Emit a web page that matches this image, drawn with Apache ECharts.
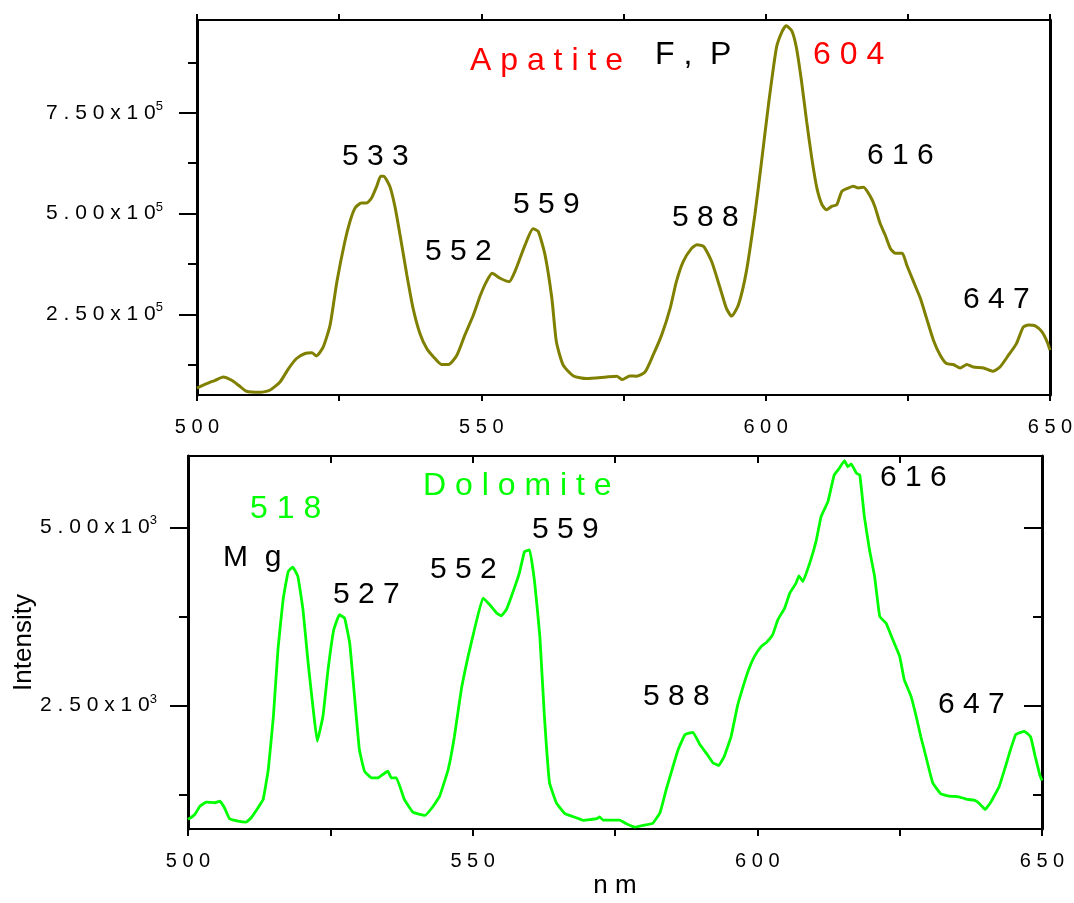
<!DOCTYPE html>
<html>
<head>
<meta charset="utf-8">
<script src="https://cdn.jsdelivr.net/npm/echarts@6/dist/echarts.min.js"></script>
<style>
  html, body { margin: 0; padding: 0; background: #fff; }
  #espectro { width: 1074px; height: 903px; }
</style>
</head>
<body>
<div id="espectro"></div>
<script>
// Apatite spectrum (top panel)
var apatiteNm = [500.0, 501.7, 503.2, 504.6, 506.1, 507.3, 508.7, 511.1, 512.8, 514.6, 516.1, 517.5, 519.0, 520.2, 521.0, 522.2, 523.4, 524.6, 526.0, 526.9,
  527.8, 528.9, 529.8, 530.7, 531.6, 532.3, 532.8, 533.9, 534.8, 535.7, 536.9, 538.0, 539.2, 540.4, 541.6, 543.0, 544.2, 545.7, 547.1, 548.6,
  549.8, 550.9, 551.9, 553.3, 554.9, 555.9, 557.7, 559.1, 560.0, 561.2, 562.4, 563.2, 564.4, 566.2, 568.5, 572.0, 573.8, 574.8, 576.1, 577.3,
  578.8, 580.2, 581.7, 583.2, 584.3, 585.5, 587.0, 587.9, 589.1, 590.5, 592.0, 593.1, 594.0, 595.2, 596.6, 598.1, 599.2, 600.5, 601.9, 602.8,
  603.6, 604.6, 605.4, 606.3, 607.2, 608.1, 609.0, 609.9, 610.7, 611.6, 612.5, 613.4, 614.6, 615.4, 616.3, 617.2, 618.4, 619.2, 620.1, 621.0,
  621.9, 622.8, 624.0, 624.8, 626.0, 627.2, 628.3, 629.5, 630.7, 631.8, 633.0, 634.2, 635.4, 636.5, 638.3, 640.0, 641.2, 642.7, 644.1, 645.3,
  646.2, 647.4, 648.6, 649.5, 650.0];
var apatiteCounts = [67000, 78000, 86500, 94700, 86500, 74100, 59200, 56700, 61700, 82300, 115600, 140500, 153000, 154500, 147000, 169400, 223400, 331100, 430600, 480400,
  513700, 526200, 526200, 538600, 567500, 592400, 592400, 567500, 517700, 447300, 347800, 264900, 202700, 165400, 144500, 125600, 125600, 148700, 198500, 248300,
  296000, 331100, 352000, 339600, 331100, 356000, 422400, 462200, 455500, 397500, 289800, 181800, 123900, 97300, 90800, 94700, 96500, 88300, 97300, 96500,
  107200, 148700, 198500, 264900, 331100, 380900, 414200, 422400, 418200, 380900, 314700, 264900, 245800, 273100, 356000, 497100, 620000, 770800, 911800, 948900,
  965600, 953200, 911800, 828700, 729200, 638100, 563500, 522000, 509500, 517700, 522000, 555100, 563500, 567500, 563500, 565000, 542600, 517700, 476400, 447300,
  414200, 401800, 401800, 372700, 331100, 289800, 240000, 186000, 148700, 128000, 125600, 117100, 125600, 119300, 117100, 108800, 119300, 148700, 177500, 218600,
  223400, 221500, 206400, 181800, 161300];

// Dolomite spectrum (bottom panel)
var dolomiteNm = [500.0, 501.2, 502.1, 503.2, 504.7, 505.6, 506.4, 507.3, 508.8, 510.2, 511.1, 512.3, 513.2, 514.1, 515.0, 515.8, 516.7, 517.6, 518.4, 519.3,
  520.2, 521.1, 522.0, 522.7, 523.7, 524.6, 525.6, 526.6, 527.5, 528.4, 529.3, 530.1, 531.0, 532.2, 533.4, 534.2, 535.1, 535.7, 536.6, 538.0,
  539.5, 541.6, 543.0, 544.2, 545.7, 546.8, 548.0, 549.2, 550.3, 551.8, 553.0, 554.2, 555.0, 555.9, 556.8, 558.2, 559.1, 560.0, 560.9, 561.8,
  562.6, 563.5, 564.7, 566.2, 568.2, 569.4, 571.8, 572.3, 572.9, 575.8, 577.0, 578.5, 579.9, 581.6, 582.9, 584.0, 585.2, 586.1, 587.3, 588.7,
  589.9, 591.0, 592.2, 593.2, 594.2, 595.4, 596.5, 597.7, 598.6, 599.5, 600.7, 601.6, 602.7, 603.6, 604.8, 605.7, 606.8, 607.3, 608.0, 609.2,
  610.3, 611.2, 612.4, 613.5, 614.4, 615.3, 615.9, 616.5, 617.4, 618.0, 618.8, 619.7, 620.6, 621.5, 622.6, 623.8, 625.0, 625.8, 627.0, 627.9,
  628.7, 629.6, 630.8, 632.2, 633.7, 635.4, 636.9, 638.1, 639.0, 640.0, 641.0, 642.5, 643.6, 644.3, 645.4, 646.9, 648.0, 648.8, 649.6, 650.0];
var dolomiteCounts = [904, 974, 1090, 1146, 1138, 1160, 1068, 914, 880, 866, 928, 1068, 1184, 1604, 2350, 3284, 3984, 4380, 4442, 4310,
  3844, 3098, 2444, 2000, 2350, 3004, 3564, 3774, 3728, 3378, 2584, 1884, 1580, 1488, 1488, 1534, 1580, 1488, 1488, 1184,
  1006, 960, 1082, 1230, 1604, 2070, 2724, 3190, 3564, 4008, 3914, 3798, 3760, 3844, 4030, 4358, 4660, 4684, 4218, 3470,
  2350, 1418, 1138, 984, 928, 890, 914, 940, 895, 895, 844, 796, 820, 848, 998, 1324, 1650, 1884, 2094, 2126,
  1954, 1838, 1698, 1660, 1790, 2070, 2490, 2818, 3030, 3190, 3330, 3386, 3494, 3704, 3868, 4078, 4218, 4320, 4240, 4498,
  4800, 5150, 5360, 5734, 5828, 5934, 5850, 5888, 5758, 5734, 5150, 4684, 4310, 3750, 3658, 3424, 3190, 2864, 2630, 2350,
  2070, 1790, 1418, 1264, 1230, 1222, 1184, 1174, 1128, 1044, 1146, 1370, 1650, 1838, 2094, 2140, 2062, 1790, 1534, 1450];

// axis ticks
var nmLabels = [500, 550, 600, 650];
var apatiteMajor = [250000, 500000, 750000];
var apatiteMinor = [125000, 375000, 625000, 875000];
var dolomiteMajor = [2500, 5000];
var dolomiteMinor = [1250, 3750];

gerarEspectros()
function gerarEspectros(){
    var dom = document.getElementById('espectro');
    var myChart = echarts.init(dom, null, { renderer: 'canvas' });
    var fonte = '"Liberation Sans", Arial, sans-serif';

    function espacar(s) { return String(s).split('').join(' '); }
    function pares(xs, ys) { return xs.map(function (x, i) { return [x, ys[i]]; }); }
    function sci(exp) {
      return function (v) {
        return '{m|' + espacar((v / Math.pow(10, exp)).toFixed(2)) + ' x 1 0}{e|' + exp + '}';
      };
    }

    function eixoNm(grid, pos, inside, len, labels, extra) {
      var ax = {
        type: 'value', gridIndex: grid, position: pos, min: 500, max: 650, interval: 25,
        splitLine: { show: false },
        axisLine: { lineStyle: { color: '#000', width: 2 } },
        axisTick: { inside: inside, length: len, lineStyle: { color: '#000', width: 2 } },
        axisLabel: labels ? {
          margin: 22, fontSize: 20, color: '#000', fontFamily: fonte,
          showMinLabel: true, showMaxLabel: true,
          formatter: function (v) { return nmLabels.indexOf(v) >= 0 ? espacar(v) : ''; }
        } : { show: false }
      };
      return Object.assign(ax, extra || {});
    }

    function eixoY(grid, pos, min, max, ticks, len, inside, lineW, label, extra) {
      var ax = {
        type: 'value', gridIndex: grid, position: pos, min: min, max: max,
        splitLine: { show: false },
        axisLine: { show: lineW > 0, lineStyle: { color: '#000', width: lineW } },
        axisTick: { customValues: ticks, inside: inside, length: len, lineStyle: { color: '#000', width: 2 } },
        axisLabel: label ? {
          customValues: ticks, margin: label.margin, formatter: label.fn,
          rich: {
            m: { fontSize: 21, color: '#000', fontFamily: fonte, lineHeight: 26 },
            e: { fontSize: 13, color: '#000', fontFamily: fonte, verticalAlign: 'top', lineHeight: 14 }
          }
        } : { show: false }
      };
      return Object.assign(ax, extra || {});
    }

    function texto(t, x, y, size, cor) {
      return { type: 'text', x: x, y: y, silent: true,
        style: { text: t, fill: cor || '#000', fontSize: size, fontFamily: fonte, align: 'left', verticalAlign: 'middle' } };
    }

    var option = {
      animation: false,
      backgroundColor: '#fff',
      textStyle: { fontFamily: fonte },
      grid: [
        { left: 197, top: 20, width: 853, height: 375, outerBoundsMode: 'none' },
        { left: 188, top: 456, width: 854, height: 373, outerBoundsMode: 'none' }
      ],
      xAxis: [
        eixoNm(0, 'bottom', false, 6, true),
        eixoNm(0, 'top', false, 6, false),
        eixoNm(1, 'bottom', false, 7, true, {
          name: 'n m', nameLocation: 'middle', nameGap: 44, nameMoveOverlap: false,
          nameTextStyle: { fontSize: 26, color: '#000', fontFamily: fonte }
        }),
        eixoNm(1, 'top', true, 7, false)
      ],
      yAxis: [
        eixoY(0, 'left', 50000, 980000, apatiteMajor, 18, false, 3, { margin: 34, fn: sci(5) }),
        eixoY(0, 'left', 50000, 980000, apatiteMinor, 9, false, 0, null),
        eixoY(0, 'right', 50000, 980000, apatiteMajor.concat(apatiteMinor), 2, false, 3, null),
        eixoY(1, 'left', 770, 6000, dolomiteMajor, 18, false, 3, { margin: 31, fn: sci(3) }, {
          name: 'Intensity', nameLocation: 'middle', nameGap: 151, nameRotate: 90, nameMoveOverlap: false,
          nameTextStyle: { fontSize: 26, color: '#000', fontFamily: fonte }
        }),
        eixoY(1, 'left', 770, 6000, dolomiteMinor, 9, false, 0, null),
        eixoY(1, 'right', 770, 6000, dolomiteMajor, 18, true, 3, null),
        eixoY(1, 'right', 770, 6000, dolomiteMinor, 9, true, 0, null)
      ],
      series: [
        {
          name: 'Apatite', type: 'line', xAxisIndex: 0, yAxisIndex: 0,
          showSymbol: false, symbol: 'none', smooth: 0.2,
          lineStyle: { color: '#808000', width: 3 },
          data: pares(apatiteNm, apatiteCounts)
        },
        {
          name: 'Dolomite', type: 'line', xAxisIndex: 2, yAxisIndex: 3,
          showSymbol: false, symbol: 'none', smooth: 0.1,
          lineStyle: { color: '#00ff00', width: 2.8 },
          data: pares(dolomiteNm, dolomiteCounts)
        }
      ],
      graphic: [
        texto('A p a t i t e', 470, 61, 32, '#ff0000'),
        texto('F ,  P', 655, 55, 32),
        texto('6 0 4', 813, 55, 32, '#ff0000'),
        texto('5 3 3', 342, 157, 30),
        texto('5 5 2', 425, 252, 30),
        texto('5 5 9', 513, 205, 30),
        texto('5 8 8', 672, 218, 30),
        texto('6 1 6', 867, 156, 30),
        texto('6 4 7', 963, 300, 30),
        texto('5 1 8', 250, 509, 32, '#00ff00'),
        texto('D o l o m i t e', 423, 486, 32, '#00ff00'),
        texto('M  g', 223, 558, 30),
        texto('5 2 7', 333, 595, 30),
        texto('5 5 2', 430, 570, 30),
        texto('5 5 9', 532, 530, 30),
        texto('5 8 8', 643, 697, 30),
        texto('6 1 6', 880, 478, 30),
        texto('6 4 7', 938, 705, 30)
      ]
    };

    myChart.setOption(option);
    window.addEventListener('resize', myChart.resize);
}
</script>
</body>
</html>
